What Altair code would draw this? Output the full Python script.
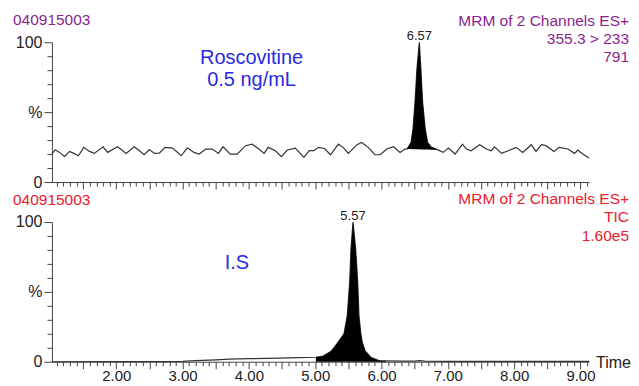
import altair as alt
import pandas as pd

# ---------------- data ----------------
# Top channel (Roscovitine 355.3 > 233): retention time (min) and relative intensity (%)
top_time = [1.03, 1.078, 1.145, 1.22, 1.295, 1.36, 1.43, 1.51, 1.596, 1.67, 1.80, 1.87,
            2.02, 2.15, 2.27, 2.35, 2.42, 2.50, 2.575, 2.65, 2.735, 2.85, 2.98, 3.07,
            3.10, 3.17, 3.25, 3.35, 3.45, 3.54, 3.61, 3.72, 3.825, 3.95, 4.05, 4.15,
            4.23, 4.29, 4.40, 4.49, 4.58, 4.70, 4.83, 4.91, 4.98, 5.05, 5.14, 5.23,
            5.35, 5.42, 5.50, 5.63, 5.70, 5.80, 5.90, 5.98, 6.08, 6.18, 6.28, 6.355,
            6.385, 6.445, 6.475, 6.505, 6.534, 6.57, 6.594, 6.62, 6.66, 6.695, 6.75, 6.85,
            6.93, 7.01, 7.11, 7.22, 7.28, 7.35, 7.48, 7.58, 7.655, 7.705, 7.81, 7.91,
            8.03, 8.13, 8.26, 8.33, 8.41, 8.48, 8.60, 8.68, 8.81, 8.91, 8.96, 9.035, 9.13]
top_pct = [20.0, 23.1, 21.2, 18.3, 21.9, 20.5, 18.8, 24.8, 21.9, 20.5, 25.2, 21.2,
           25.2, 20.5, 25.2, 22.4, 19.5, 23.3, 20.5, 20.7, 24.8, 24.3, 18.8, 24.3,
           23.6, 21.2, 20.0, 23.6, 23.6, 20.5, 25.2, 20.0, 20.0, 26.0, 27.1, 23.6,
           20.5, 24.8, 22.4, 18.1, 22.9, 24.3, 17.6, 22.4, 22.4, 24.8, 24.0, 19.5,
           27.1, 24.8, 20.5, 26.7, 28.3, 24.8, 19.5, 19.5, 23.6, 25.2, 21.2, 23.6,
           23.6, 28.3, 37.9, 57.0, 80.7, 100.0, 80.7, 57.0, 37.9, 28.3, 25.0, 23.0,
           21.2, 24.3, 20.0, 27.1, 23.6, 22.4, 26.7, 23.6, 22.4, 25.2, 20.5, 22.4,
           24.8, 21.2, 26.7, 21.9, 26.7, 26.0, 21.9, 24.8, 23.6, 20.5, 22.9, 20.0, 17.1]

# integrated (filled) part of the top peak, with its baseline
top_peak_time = [6.385, 6.445, 6.475, 6.505, 6.534, 6.57, 6.594, 6.62, 6.66, 6.695, 6.75, 6.85]
top_peak_pct = [23.6, 28.3, 37.9, 57.0, 80.7, 100.0, 80.7, 57.0, 37.9, 28.3, 25.0, 23.0]
top_peak_base = [23.6, 23.6, 23.5, 23.5, 23.4, 23.4, 23.3, 23.3, 23.2, 23.2, 23.1, 23.0]

# Bottom channel (internal standard, TIC)
bot_time = [1.03, 3.0, 3.2, 3.5, 3.7, 4.0, 4.47, 4.75, 5.01, 5.12, 5.24, 5.33, 5.434, 5.484,
            5.52, 5.54, 5.57, 5.61, 5.641, 5.66, 5.686, 5.71, 5.75, 5.837, 5.96, 6.07,
            6.3, 6.5, 6.57, 6.65, 7.0, 8.0, 9.13]
bot_pct = [0.0, 0.2, 0.8, 1.4, 1.9, 2.2, 2.6, 2.9, 3.2, 4.1, 7.5, 13.0, 20.0, 33.0,
           57.0, 81.0, 100.0, 81.0, 57.0, 33.0, 21.0, 14.0, 8.0, 3.2, 0.8, 0.6,
           0.4, 0.4, 0.8, 0.4, 0.3, 0.2, 0.2]
bot_fill_from = 5.01
bot_fill_to = 6.07

peak_labels_top = ["6.57"]
peak_times_top = [6.57]
peak_labels_bot = ["5.57"]
peak_times_bot = [5.57]

x_domain = [1.03, 9.13]
x_tick_values = [round(1.1 + 0.1 * i, 1) for i in range(81)]
y_tick_values = [0, 10, 20, 30, 40, 50, 60, 70, 80, 90, 100]

# ---------------- style ----------------
FONT = "Liberation Sans"
PURPLE = "#8a1f8c"
RED = "#e8202a"
BLUE = "#2a2ae0"
TRACE = "#333333"
W, H = 538, 140

X_SCALE = alt.Scale(domain=x_domain, nice=False, zero=False)
Y_SCALE = alt.Scale(domain=[0, 100], nice=False, zero=True)


def x_axis(show_labels):
    return alt.Axis(
        values=x_tick_values,
        labels=show_labels,
        labelExpr="abs(datum.value - round(datum.value)) < 0.001 ? format(datum.value, '.2f') : ''",
        tickSize={"condition": {"test": "abs(datum.value*2 - round(datum.value*2)) < 0.001", "value": 7}, "value": 4},
        labelOverlap=False,
        labelFlush=False,
        labelPadding=0,
        labelFontSize=15,
        title=None,
    )


Y_AXIS = alt.Axis(
    values=y_tick_values,
    labelExpr="datum.value == 0 ? '0' : (datum.value == 50 ? '%' : (datum.value == 100 ? '100' : ''))",
    tickSize={"condition": {"test": "datum.value % 50 == 0", "value": 8}, "value": 5},
    labelOverlap=False,
    labelPadding=2,
    title=None,
)

top_df = pd.DataFrame({"time": top_time, "pct": top_pct})
top_peak_df = pd.DataFrame({"time": top_peak_time, "pct": top_peak_pct, "base": top_peak_base})
bot_df = pd.DataFrame({"time": bot_time, "pct": bot_pct})
bot_fill_df = bot_df[(bot_df.time >= bot_fill_from) & (bot_df.time <= bot_fill_to)]


def txt(text, color, size, x, y, align="left", line_height=None):
    kw = dict(font=FONT, fontSize=size, color=color, align=align, baseline="alphabetic")
    if line_height:
        kw["lineBreak"] = "\n"
        kw["lineHeight"] = line_height
    return alt.Chart(pd.DataFrame({"t": [text]})).mark_text(**kw).encode(
        x=alt.value(x), y=alt.value(y), text="t:N")


def enc_xy(xa):
    return dict(x=alt.X("time:Q", scale=X_SCALE, axis=xa),
                y=alt.Y("pct:Q", scale=Y_SCALE, axis=Y_AXIS))


def peak_label(times, labels, xa):
    df = pd.DataFrame({"time": times, "pct": [100] * len(times), "label": labels})
    return alt.Chart(df).mark_text(font=FONT, fontSize=13, color="#222", baseline="alphabetic", dy=-2).encode(
        text="label:N", **enc_xy(xa))


def annot(lines, times, pcts, xa):
    df = pd.DataFrame({"time": times, "pct": pcts, "label": lines})
    return alt.Chart(df).mark_text(font=FONT, fontSize=20, color=BLUE, baseline="alphabetic").encode(
        text="label:N", **enc_xy(xa))


# ---------------- top panel ----------------
XA_TOP = x_axis(False)
top_line = alt.Chart(top_df).mark_line(color=TRACE, strokeWidth=1.2).encode(
    order="time:Q", **enc_xy(XA_TOP))
top_fill = alt.Chart(top_peak_df).mark_area(color="black").encode(
    y2="base:Q", **enc_xy(XA_TOP))

top = alt.layer(
    top_line, top_fill,
    peak_label(peak_times_top, peak_labels_top, XA_TOP),
    annot(["Roscovitine", "0.5 ng/mL"], [4.04, 4.04], [84.3, 68.6], XA_TOP),
    txt("040915003", PURPLE, 15.5, -39, -17),
    txt("MRM of 2 Channels ES+\n355.3 > 233\n791", PURPLE, 15.5, 578, -16.5, align="right", line_height=18),
).properties(width=W, height=H)

# ---------------- bottom panel ----------------
XA_BOT = x_axis(True)
bot_line = alt.Chart(bot_df).mark_line(color=TRACE, strokeWidth=1.2).encode(
    order="time:Q", **enc_xy(XA_BOT))
bot_fill = alt.Chart(bot_fill_df).mark_area(color="black").encode(**enc_xy(XA_BOT))

bottom = alt.layer(
    bot_line, bot_fill,
    peak_label(peak_times_bot, peak_labels_bot, XA_BOT),
    annot(["I.S"], [3.82], [66.5], XA_BOT),
    txt("040915003", RED, 15.5, -39, -16.5),
    txt("MRM of 2 Channels ES+\nTIC\n1.60e5", RED, 15.5, 578, -18, align="right", line_height=18.5),
    txt("Time", "#222", 16, 545, 146),
).properties(width=W, height=H)

chart = alt.vconcat(top, bottom, spacing=40, bounds="flush").properties(
    padding={"left": 5, "top": 5, "right": 0, "bottom": 0},
    background="white",
).configure_view(stroke=None).configure_axis(
    domainColor="#444", tickColor="#444", domainWidth=1, tickWidth=1,
    labelFont=FONT, labelFontSize=16, labelColor="#222", grid=False,
)

chart.save("out.html", embed_options={"renderer": "svg", "actions": False})
